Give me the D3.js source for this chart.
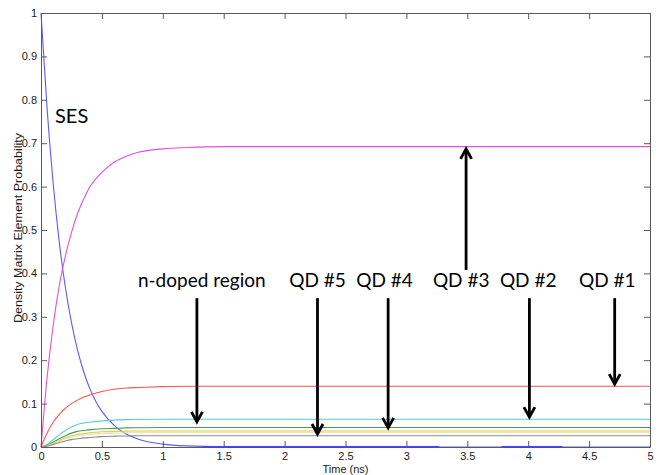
<!DOCTYPE html>
<html>
<head>
<meta charset="utf-8">
<script src="https://cdn.jsdelivr.net/npm/d3@7/dist/d3.min.js"></script>
<style>
  html, body { margin: 0; padding: 0; background: #fff; }
  svg { display: block; }
</style>
</head>
<body>
<svg id="chart" width="662" height="475"></svg>
<script>
// Sample times (ns)
const times = [0, 0.05, 0.1, 0.15, 0.2, 0.25, 0.3, 0.35, 0.4, 0.45, 0.5, 0.6, 0.7, 0.8, 1.0, 1.2, 1.5, 2, 2.5, 3, 3.5, 4, 4.5, 5];

// Density-matrix element populations for each state
const sesValues     = [1, 0.78, 0.607, 0.472, 0.368, 0.287, 0.223, 0.174, 0.135, 0.105, 0.082, 0.050, 0.030, 0.018, 0.0067, 0.0025, 0.0006, 0, 0, 0, 0, 0, 0, 0];
const qd3Values     = [0, 0.16, 0.28, 0.372, 0.44, 0.494, 0.538, 0.571, 0.599, 0.618, 0.633, 0.656, 0.670, 0.679, 0.687, 0.690, 0.692, 0.692, 0.692, 0.692, 0.692, 0.692, 0.692, 0.692];
const qd1Values     = [0, 0.032, 0.057, 0.075, 0.089, 0.1, 0.108, 0.115, 0.12, 0.124, 0.128, 0.133, 0.136, 0.137, 0.139, 0.14, 0.14, 0.14, 0.14, 0.14, 0.14, 0.14, 0.14, 0.14];
const qd2Values     = [0, 0.006, 0.017, 0.028, 0.038, 0.046, 0.052, 0.055, 0.057, 0.059, 0.060, 0.062, 0.063, 0.0635, 0.064, 0.064, 0.064, 0.064, 0.064, 0.064, 0.064, 0.064, 0.064, 0.064];
const nDopedValues  = [0, 0.004, 0.011, 0.019, 0.026, 0.032, 0.036, 0.038, 0.040, 0.041, 0.042, 0.043, 0.044, 0.0445, 0.045, 0.045, 0.045, 0.045, 0.045, 0.045, 0.045, 0.045, 0.045, 0.045];
const qd4Values     = [0, 0.003, 0.009, 0.015, 0.021, 0.026, 0.029, 0.031, 0.033, 0.034, 0.035, 0.036, 0.0365, 0.037, 0.037, 0.037, 0.037, 0.037, 0.037, 0.037, 0.037, 0.037, 0.037, 0.037];
const qd4bValues    = [0, 0.0027, 0.008, 0.013, 0.019, 0.023, 0.026, 0.028, 0.029, 0.030, 0.031, 0.032, 0.0325, 0.033, 0.033, 0.033, 0.033, 0.033, 0.033, 0.033, 0.033, 0.033, 0.033, 0.033];
const qd5Values     = [0, 0.002, 0.006, 0.010, 0.014, 0.017, 0.019, 0.021, 0.022, 0.023, 0.024, 0.025, 0.0255, 0.026, 0.026, 0.026, 0.026, 0.026, 0.026, 0.026, 0.026, 0.026, 0.026, 0.026];

// Tick labels
const xTicks = [0, 0.5, 1, 1.5, 2, 2.5, 3, 3.5, 4, 4.5, 5];
const yTicks = [0, 0.1, 0.2, 0.3, 0.4, 0.5, 0.6, 0.7, 0.8, 0.9, 1];

// Text annotations and arrows: label, x (ns), label baseline (prob), arrow start, arrow tip
const annLabels = ["n-doped region", "QD #5", "QD #4", "QD #3", "QD #2", "QD #1"];
const annTextX  = [1.32, 2.27, 2.82, 3.45, 4.0, 4.65];
const annArrowX = [1.28, 2.27, 2.85, 3.49, 4.01, 4.71];
const annTextY  = [0.369, 0.369, 0.369, 0.369, 0.369, 0.369];
const annFrom   = [0.343, 0.343, 0.343, 0.408, 0.343, 0.343];
const annTo     = [0.058, 0.030, 0.044, 0.687, 0.069, 0.145];

const series = [
  { name: "SES",  values: sesValues,    color: "#5a5aff" },
  { name: "QD3",  values: qd3Values,    color: "#e050e0" },
  { name: "QD1",  values: qd1Values,    color: "#ff5050" },
  { name: "QD2",  values: qd2Values,    color: "#55d0d0" },
  { name: "nd",   values: nDopedValues, color: "#4a9e4a" },
  { name: "QD4",  values: qd4Values,    color: "#d8d048" },
  { name: "QD4b", values: qd4bValues,   color: "#e6dfa8" },
  { name: "QD5",  values: qd5Values,    color: "#8a8a8a" }
];

const svg = d3.select("#chart");
const m = { left: 41, right: 12, top: 13, bottom: 28 };
const W = 662, H = 475;
const x = d3.scaleLinear().domain([0, 5]).range([m.left, W - m.right]);
const y = d3.scaleLinear().domain([0, 1]).range([H - m.bottom, m.top]);

const axisColor = "#5a5a5a";
const tickFont = "'Liberation Sans', Arial, sans-serif";

// Curves
const line = d3.line()
  .x((d, i) => x(times[i]))
  .y(d => y(d))
  .curve(d3.curveMonotoneX);

series.forEach(s => {
  svg.append("path")
    .attr("d", line(s.values))
    .attr("fill", "none")
    .attr("stroke", s.color)
    .attr("stroke-width", 1.1);
});

// Axes (box with inward ticks on all four sides)
const tickLen = 6;
const bottomAxis = d3.axisBottom(x).tickValues(xTicks).tickSizeInner(-tickLen).tickSizeOuter(0).tickPadding(5).tickFormat(d3.format("~g"));
const topAxis = d3.axisTop(x).tickValues(xTicks).tickSizeInner(-tickLen).tickSizeOuter(0).tickFormat("");
const leftAxis = d3.axisLeft(y).tickValues(yTicks).tickSizeInner(-tickLen).tickSizeOuter(0).tickPadding(4).tickFormat(d3.format("~g"));
const rightAxis = d3.axisRight(y).tickValues(yTicks).tickSizeInner(-tickLen).tickSizeOuter(0).tickFormat("");

function styleAxis(g) {
  g.select(".domain").attr("stroke", axisColor);
  g.selectAll(".tick line").attr("stroke", axisColor);
  g.selectAll(".tick text").attr("fill", "#1a1a1a").style("font-family", tickFont).style("font-size", "11px");
}

svg.append("g").attr("transform", `translate(0,${y(0)})`).call(bottomAxis).call(styleAxis);
svg.append("g").attr("transform", `translate(0,${y(1)})`).call(topAxis).call(styleAxis);
svg.append("g").attr("transform", `translate(${x(0)},0)`).call(leftAxis).call(styleAxis);
svg.append("g").attr("transform", `translate(${x(5)},0)`).call(rightAxis).call(styleAxis);

// Residual SES population lying on the time axis
const tailTimes = [[1.33, 3.27], [3.78, 4.28]];
tailTimes.forEach(([a, b]) => {
  svg.append("line")
    .attr("x1", x(a)).attr("x2", x(b))
    .attr("y1", y(0)).attr("y2", y(0))
    .attr("stroke", "#4444ee").attr("stroke-width", 2);
});

// Axis titles
svg.append("text")
  .attr("x", (x(0) + x(5)) / 2).attr("y", 473)
  .attr("text-anchor", "middle")
  .style("font-family", tickFont).style("font-size", "11px").attr("fill", "#1a1a1a")
  .text("Time (ns)");

svg.append("text")
  .attr("transform", `translate(22,${(y(0) + y(1)) / 2 - 2}) rotate(-90)`)
  .attr("text-anchor", "middle")
  .attr("textLength", 190).attr("lengthAdjust", "spacingAndGlyphs")
  .style("font-family", tickFont).style("font-size", "11.5px").attr("fill", "#1a1a1a")
  .text("Density Matrix Element Probability");

// Annotations
const annFont = "Lato, 'Open Sans', sans-serif";

svg.append("text")
  .attr("x", x(0.115)).attr("y", y(0.747))
  .style("font-family", annFont).style("font-size", "20px").attr("fill", "#000")
  .text("SES");

annLabels.forEach((label, i) => {
  svg.append("text")
    .attr("x", x(annTextX[i])).attr("y", y(annTextY[i]))
    .attr("text-anchor", "middle")
    .style("font-family", annFont).style("font-size", "19px").attr("fill", "#000")
    .text(label);

  const ax = x(annArrowX[i]);
  const y0 = y(annFrom[i]);
  const y1 = y(annTo[i]);
  const dir = y1 > y0 ? 1 : -1;
  const hw = 5.5, hh = 10;
  svg.append("line")
    .attr("x1", ax).attr("x2", ax)
    .attr("y1", y0).attr("y2", y1 - dir * 1.5)
    .attr("stroke", "#000").attr("stroke-width", 2.8);
  svg.append("path")
    .attr("d", `M${ax - hw},${y1 - dir * hh} L${ax},${y1} L${ax + hw},${y1 - dir * hh}`)
    .attr("fill", "none").attr("stroke", "#000").attr("stroke-width", 2.8)
    .attr("stroke-linejoin", "miter");
});
</script>
</body>
</html>
